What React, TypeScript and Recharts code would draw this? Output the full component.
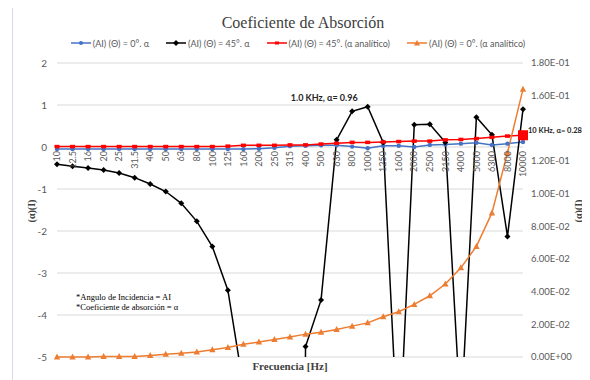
import React from 'react';
import { LineChart, Line, XAxis, YAxis, CartesianGrid, Legend, LabelList } from 'recharts';

// frecuencias de tercio de octava [Hz]
const frequencies = [
  '10', '12.5', '16', '20', '25', '31.5', '40', '50', '63', '80', '100', '125', '160', '200', '250',
  '315', '400', '500', '630', '800', '1000', '1250', '1600', '2000', '2500', '3150', '4000', '5000',
  '6300', '8000', '10000',
];

// (AI) (Θ) = 0°. α  -> eje izquierdo
const alpha0 = [
  -0.05, -0.05, -0.05, -0.05, -0.05, -0.05, -0.05, -0.05, -0.05, -0.05, -0.05, -0.05, -0.05, -0.04, -0.02,
  0.02, 0.03, 0.04, 0.04, 0.01, -0.03, 0.03, 0.03, 0.0, 0.05, 0.06, 0.08, 0.1, 0.05, 0.08, 0.12,
];

// (AI) (Θ) = 45°. α  -> eje izquierdo (sale del rango en varias bandas)
const alpha45 = [
  -0.41, -0.46, -0.5, -0.55, -0.62, -0.73, -0.88, -1.06, -1.34, -1.77, -2.37, -3.41, -5.7, -12, -25,
  -60, -4.75, -3.64, 0.17, 0.85, 0.96, 0.11, -7.4, 0.53, 0.54, 0.11, -6.5, 0.71, 0.29, -2.13, 0.9,
];

// (AI) (Θ) = 45°. (α analítico)  -> eje izquierdo
const alpha45Analitico = [
  0.01, 0.01, 0.01, 0.01, 0.01, 0.01, 0.01, 0.01, 0.01, 0.01, 0.01, 0.02, 0.04, 0.04, 0.04,
  0.05, 0.05, 0.07, 0.09, 0.11, 0.11, 0.12, 0.13, 0.14, 0.14, 0.17, 0.18, 0.2, 0.23, 0.26, 0.28,
];

// (AI) (Θ) = 0°. (α analítico)  -> eje derecho
const alpha0Analitico = [
  0.0, 0.0, 0.0, 0.0003, 0.0003, 0.0003, 0.0009, 0.0017, 0.0023, 0.0031, 0.0045, 0.0058, 0.0078, 0.0092, 0.0107,
  0.0123, 0.014, 0.0152, 0.0169, 0.0189, 0.0209, 0.0246, 0.0277, 0.0322, 0.0375, 0.0447, 0.0546, 0.0677,
  0.0882, 0.125, 0.164,
];

const leftTicks = [-5, -4, -3, -2, -1, 0, 1, 2];
// la etiqueta 1.40E-01 queda tapada por la etiqueta de datos en el original
const rightTicks = [0, 0.02, 0.04, 0.06, 0.08, 0.1, 0.12, 0.16, 0.18];
const rightDomain = [0, 0.18];

const rows = frequencies.map((f, i) => ({
  f,
  a0: alpha0[i],
  a45: alpha45[i],
  a45an: alpha45Analitico[i],
  a0an: alpha0Analitico[i],
}));

const BLUE = '#4472C4';
const BLACK = '#000000';
const RED = '#FF0000';
const ORANGE = '#ED7D31';
const GREY = '#595959';
const SANS = 'Lato, "Liberation Sans", sans-serif';
const SERIF = '"Liberation Serif", "DejaVu Serif", serif';

// layout
const W = 590;
const H = 380;
const MARGIN = { top: 33, right: 7, bottom: 0, left: 22 };
const LEGEND_H = 30;
const XAXIS_H = 23;
const PLOT_TOP = MARGIN.top + LEGEND_H;
const PLOT_H = H - PLOT_TOP - XAXIS_H - MARGIN.bottom;
// el eje horizontal cruza en 0, como en Excel
const ZERO_Y = PLOT_TOP + (PLOT_H * leftTicks[leftTicks.length - 1]) / (leftTicks[leftTicks.length - 1] - leftTicks[0]);

const sci = (v: number) => {
  const [m, e] = v.toExponential(2).split('e');
  const n = Math.abs(Number(e));
  return `${m}E${Number(e) < 0 ? '-' : '+'}${String(n).padStart(2, '0')}`;
};

const FreqTick = (props: any) => {
  const { x, payload } = props;
  return (
    <text
      transform={`translate(${x + 3.2},${ZERO_Y + 4}) rotate(-90)`}
      textAnchor="end"
      fontSize={9}
      fontFamily={SANS}
      fill={GREY}
    >
      {payload.value}
    </text>
  );
};

const BlueDot = (p: any) => (p.cx == null ? null : <circle key={p.index} cx={p.cx} cy={p.cy} r={2.2} fill={BLUE} />);

const BlackDot = (p: any) =>
  p.cx == null ? null : (
    <path key={p.index} d={`M${p.cx},${p.cy - 3}L${p.cx + 3},${p.cy}L${p.cx},${p.cy + 3}L${p.cx - 3},${p.cy}Z`} fill={BLACK} />
  );

const RedDot = (p: any) => {
  if (p.cx == null) return null;
  const last = p.index === frequencies.length - 1;
  const w = last ? 10 : 5;
  const h = last ? 10 : 3.5;
  return <rect key={p.index} x={p.cx - w / 2} y={p.cy - h / 2} width={w} height={h} fill={RED} />;
};

const OrangeDot = (p: any) =>
  p.cx == null ? null : (
    <path key={p.index} d={`M${p.cx},${p.cy - 3.5}L${p.cx + 3.2},${p.cy + 2.5}L${p.cx - 3.2},${p.cy + 2.5}Z`} fill={ORANGE} />
  );

const pick = (p: any) => ({
  x: p.viewBox?.x ?? p.x,
  y: p.viewBox?.y ?? p.y,
});

const BlackLabel = (p: any) => {
  if (frequencies[p.index] !== '1000') return null;
  const { x, y } = pick(p);
  return (
    <text x={x - 10} y={y - 6} textAnchor="end" fontSize={9} fontWeight="bold" fontFamily={SANS} fill="#262626">
      {`1.0 KHz,  α= ${p.value}`}
    </text>
  );
};

const RedLabel = (p: any) => {
  if (p.index !== frequencies.length - 1) return null;
  const { x, y } = pick(p);
  return (
    <text x={x + 5} y={y - 2} fontSize={7.5} fontWeight="bold" fontFamily={SANS} fill="#262626">
      {`10 KHz, α= ${p.value}`}
    </text>
  );
};

const legendItems = [
  { name: '(AI) (Θ) = 0°. α', color: BLUE, mark: 'circle' },
  { name: '(AI) (Θ) = 45°. α', color: BLACK, mark: 'diamond' },
  { name: '(AI) (Θ) = 45°. (α analítico)', color: RED, mark: 'square' },
  { name: '(AI) (Θ) = 0°. (α analítico)', color: ORANGE, mark: 'triangle' },
];

const LegendMark = ({ color, mark }: { color: string; mark: string }) => (
  <svg width={20} height={8} style={{ marginRight: 2 }}>
    <line x1={0} y1={4} x2={20} y2={4} stroke={color} strokeWidth={1.5} />
    {mark === 'circle' && <circle cx={10} cy={4} r={2} fill={color} />}
    {mark === 'diamond' && <path d="M10,1L13,4L10,7L7,4Z" fill={color} />}
    {mark === 'square' && <rect x={8} y={2.5} width={4} height={3} fill={color} />}
    {mark === 'triangle' && <path d="M10,1L13,6.5L7,6.5Z" fill={color} />}
  </svg>
);

const LegendContent = () => (
  <div style={{ display: 'flex', justifyContent: 'center', gap: 17, height: 20, alignItems: 'center', paddingLeft: 6 }}>
    {legendItems.map((it) => (
      <div key={it.name} style={{ display: 'flex', alignItems: 'center', fontFamily: SANS, fontSize: 9, color: GREY }}>
        <LegendMark color={it.color} mark={it.mark} />
        <span>{it.name}</span>
      </div>
    ))}
  </div>
);

const axisTitle: React.CSSProperties = {
  position: 'absolute',
  fontFamily: SERIF,
  fontSize: 10,
  fontWeight: 'bold',
  color: '#404040',
  transform: 'translate(-50%, -50%) rotate(-90deg)',
  whiteSpace: 'nowrap',
};

export default function App() {
  return (
    <div style={{ position: 'relative', margin: '-8px 0 0 -8px', width: W, height: H, overflow: 'hidden', background: '#fff' }}>
      <div style={{ position: 'absolute', left: 12, top: 7, width: W, height: H, border: '1px solid #d5dae8' }} />
      <div
        style={{
          position: 'absolute',
          left: 303,
          top: 23,
          transform: 'translate(-50%, -50%)',
          fontFamily: SERIF,
          fontSize: 16,
          color: '#404040',
          whiteSpace: 'nowrap',
        }}
      >
        Coeficiente de Absorción
      </div>
      <div style={{ ...axisTitle, left: 31, top: 211 }}>(α)(I)</div>
      <div style={{ ...axisTitle, left: 578, top: 211 }}>(α)(I)</div>
      <div
        style={{
          position: 'absolute',
          left: 76,
          top: 292,
          fontFamily: SERIF,
          fontSize: 8.5,
          lineHeight: '10px',
          color: '#000',
          whiteSpace: 'nowrap',
        }}
      >
        <div>*Angulo de Incidencia = AI</div>
        <div>*Coeficiente de absorción = α</div>
      </div>
      <div style={{ position: 'absolute', left: 0, top: 0 }}>
        <LineChart width={W} height={H} data={rows} margin={MARGIN} style={{ overflow: 'visible' }}>
          <CartesianGrid yAxisId="l" vertical={false} stroke="#d9d9d9" />
          <XAxis
            dataKey="f"
            interval={0}
            height={XAXIS_H}
            axisLine={false}
            tickLine={false}
            tick={<FreqTick />}
            label={{
              value: 'Frecuencia [Hz]',
              position: 'insideBottom',
              offset: 10,
              fontFamily: SERIF,
              fontSize: 11,
              fontWeight: 'bold',
              fill: '#404040',
            }}
          />
          <YAxis
            yAxisId="l"
            width={35}
            domain={[leftTicks[0], leftTicks[leftTicks.length - 1]]}
            ticks={leftTicks}
            allowDataOverflow
            axisLine={false}
            tickLine={false}
            tickMargin={4}
            tick={{ fontSize: 10, fontFamily: SANS, fill: GREY }}
          />
          <YAxis
            yAxisId="r"
            orientation="right"
            width={60}
            domain={rightDomain}
            ticks={rightTicks}
            axisLine={false}
            tickLine={false}
            tickFormatter={sci}
            tick={{ fontSize: 9.5, fontFamily: SANS, fill: GREY }}
          />
          <Legend verticalAlign="top" height={LEGEND_H} content={<LegendContent />} wrapperStyle={{ left: 0, width: W }} />
          <Line yAxisId="l" dataKey="a0" stroke={BLUE} strokeWidth={1.5} dot={<BlueDot />} isAnimationActive={false} />
          <Line yAxisId="l" dataKey="a45" stroke={BLACK} strokeWidth={1.5} dot={<BlackDot />} isAnimationActive={false}>
            <LabelList dataKey="a45" content={<BlackLabel />} />
          </Line>
          <Line yAxisId="l" dataKey="a45an" stroke={RED} strokeWidth={1.5} dot={<RedDot />} isAnimationActive={false}>
            <LabelList dataKey="a45an" content={<RedLabel />} />
          </Line>
          <Line yAxisId="r" dataKey="a0an" stroke={ORANGE} strokeWidth={1.5} dot={<OrangeDot />} isAnimationActive={false} />
        </LineChart>
      </div>
    </div>
  );
}
